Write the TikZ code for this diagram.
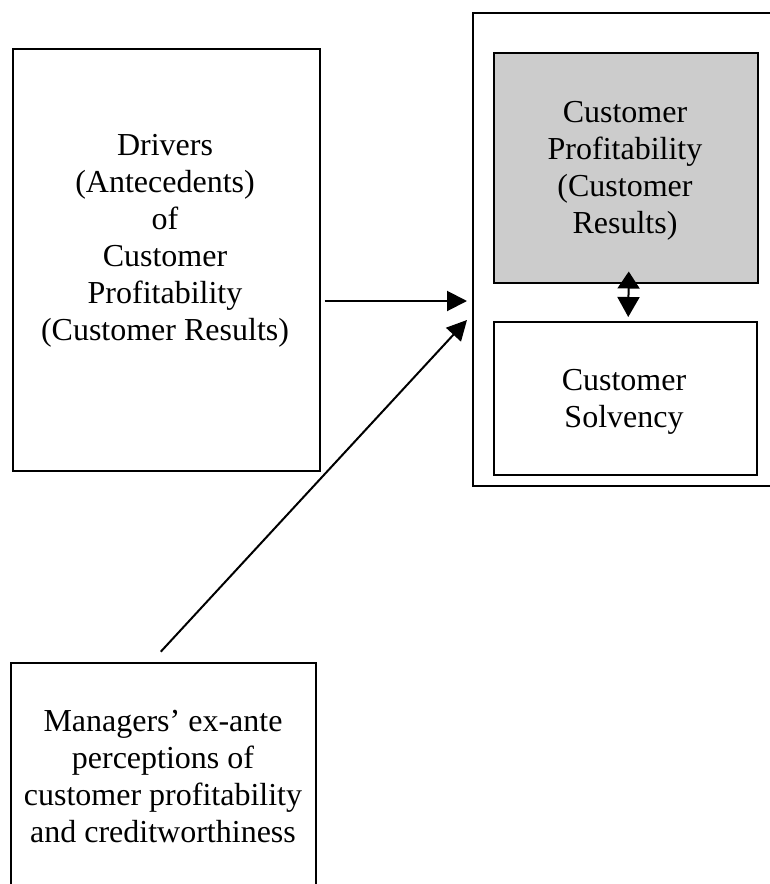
\documentclass[tikz,border=0pt]{standalone}
\usepackage{fontspec}
\setmainfont{Liberation Serif}
\usetikzlibrary{arrows.meta}
\begin{document}
\begin{tikzpicture}[x=1pt, y=-1pt, line join=miter, >={Triangle[length=20pt,width=20pt]},
    box/.style={draw, line width=1.5pt, inner sep=0pt, anchor=north west},
    txt/.style={align=center, font=\fontsize{32}{37}\selectfont, anchor=base},
    link/.style={line width=2pt}]
  \useasboundingbox (0,0) rectangle (770,884);
  \clip (0,0) rectangle (770,884);
  % boxes
  \node[box, minimum width=307pt, minimum height=422pt] (drivers) at (12,48) {};
  \node[box, minimum width=330pt, minimum height=473pt] (outcome) at (472,12) {};
  \node[box, fill=gray!40, minimum width=264pt, minimum height=230pt] (profit) at (493,52) {};
  \node[box, minimum width=263pt, minimum height=153pt] (solvency) at (493,321) {};
  \node[box, minimum width=305pt, minimum height=250pt] (managers) at (10,662) {};
  % texts (anchored on the last baseline)
  \node[txt] (drivtxt) at (165,340) {Drivers\\(Antecedents)\\of\\Customer\\Profitability\\(Customer Results)};
  \node[txt] (proftxt) at (625,233) {Customer\\Profitability\\(Customer\\Results)};
  \node[txt] (solvtxt) at (624,427) {Customer\\Solvency};
  \node[txt] (mgrtxt) at (163,842) {Managers’ ex-ante\\perceptions of\\customer profitability\\and creditworthiness};
  % arrows
  \coordinate (hin) at (467,301);
  \coordinate (din) at (467,320);
  \draw[link, ->, shorten <=4pt] (drivers.east |- hin) -- (hin);
  \draw[link, ->, shorten <=14pt] ([xshift=-12pt]managers.north) -- (din);
  \draw[link, {Triangle[length=17pt,width=22pt]}-{Triangle[length=20pt,width=22pt]}]
    ([xshift=3pt,yshift=12pt]profit.south) -- ([xshift=3pt,yshift=4pt]solvency.north);
\end{tikzpicture}
\end{document}
